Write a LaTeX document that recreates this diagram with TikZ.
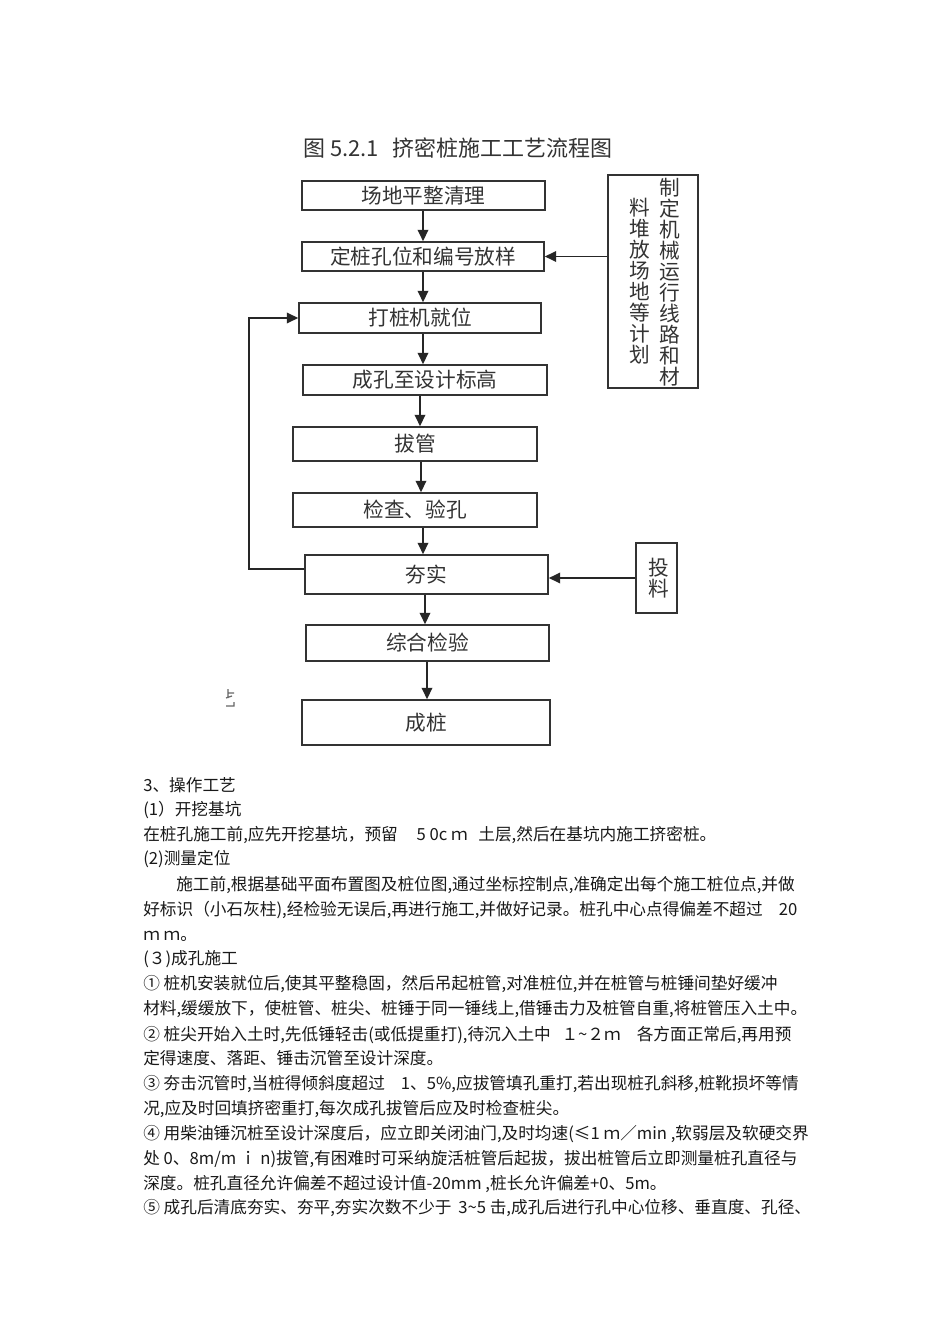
\documentclass[tikz,border=0pt]{standalone}
\usepackage{fontspec}
\newfontfamily\cjk{Noto Sans CJK SC}
\usetikzlibrary{arrows.meta,positioning,calc}
\def\pxu{0.75pt}

\tikzset{
  stepbox/.style={draw=black!80, line width=1.3pt, rectangle, inner sep=0pt,
    text=black!80, font=\cjk\fontsize{15.5}{18}\selectfont},
  sidebox/.style={draw=black!80, line width=1.3pt, rectangle, inner sep=0pt},
  vtext/.style={align=center, inner sep=0pt, text=black!80,
    font=\cjk\fontsize{15.5}{15.75}\selectfont},
  flow/.style={draw=black!85, line width=1.2pt, -{Triangle[length=8.5pt,width=8pt]}},
  bodyline/.style={anchor=base west, inner sep=0pt, text=black!90,
    font=\cjk\fontsize{12.5}{15}\selectfont},
}

\begin{document}
\begin{tikzpicture}[x=0.75pt, y=-0.75pt]
  \fill[white] (0,0) rectangle (950,1344);
  \useasboundingbox (0,0) rectangle (950,1344);

  % --- title ---
  \node[anchor=west, inner sep=0pt, text=black!80, font=\cjk\fontsize{16.5}{18}\selectfont]
    (title) at (303,148) {图 5.2.1\hspace{10pt}挤密桩施工工艺流程图};

  % --- main steps ---
  \node[stepbox, minimum width=243*\pxu, minimum height=29*\pxu] (clear) at (423.5,195.5) {场地平整清理};
  \node[stepbox, minimum width=242*\pxu, minimum height=29*\pxu] (layout) at (423,256.5) {定桩孔位和编号放样};
  \node[stepbox, minimum width=242*\pxu, minimum height=30*\pxu] (pos) at (420,318) {打桩机就位};
  \node[stepbox, minimum width=244*\pxu, minimum height=30*\pxu] (bore) at (425,380) {成孔至设计标高};
  \node[stepbox, minimum width=244*\pxu, minimum height=34*\pxu] (pull) at (415,444) {拔管};
  \node[stepbox, minimum width=244*\pxu, minimum height=34*\pxu] (check) at (415,510) {检查、验孔};
  \node[stepbox, minimum width=243*\pxu, minimum height=39*\pxu] (tamp) at (426.5,574.5) {夯实};
  \node[stepbox, minimum width=243*\pxu, minimum height=36*\pxu] (test) at (427.5,643) {综合检验};
  \node[stepbox, minimum width=248*\pxu, minimum height=45*\pxu] (pile) at (426,722.5) {成桩};

  % --- side boxes ---
  \node[sidebox, minimum width=90*\pxu, minimum height=213*\pxu] (plan) at (653,281.5) {};
  \node[vtext] (planA) at (670,282.5) {制\\定\\机\\械\\运\\行\\线\\路\\和\\材};
  \node[vtext] (planB) at (640,281.5) {料\\堆\\放\\场\\地\\等\\计\\划};
  \node[sidebox, minimum width=41*\pxu, minimum height=70*\pxu] (feed) at (656.5,578) {};
  \node[vtext] (feedtxt) at (659,578) {投\\料};

  % --- connectors ---
  \foreach \from/\to/\xx in {clear/layout/423, layout/pos/423, pos/bore/423, bore/pull/420,
                             pull/check/421, check/tamp/423, tamp/test/425, test/pile/427} {
    \coordinate (ax) at (\xx,0);
    \draw[flow] (\from.south -| ax) -- (\to.north -| ax);
  }
  \draw[flow] (plan.west |- layout.east) -- (layout.east);
  \draw[flow] (feed.west) -- (feed.west -| tamp.east);
  \coordinate (loopx) at (249,0);
  \coordinate (loopstart) at ([yshift=4pt]tamp.west);
  \draw[flow] (loopstart) -- (loopstart -| loopx) |- (pos.west);

  % stray glyph piece
  \draw[black!60, line width=0.9pt] (228,689) -- (228,698) (228,693) -- (234,693)
    (226,698) -- (232,696) (226,706) -- (234,706) -- (234,702);

  % --- text below ---
  \node[bodyline] (l1) at (143,791) {3、操作工艺};
  \node[bodyline] (l2) at (143,815) {(1）开挖基坑};
  \node[bodyline] (l3) at (143,840) {在桩孔施工前,应先开挖基坑，预留\hspace{14pt}5 0c ｍ\hspace{8pt}土层,然后在基坑内施工挤密桩。};
  \node[bodyline] (l4) at (143,864) {(2)测量定位};
  \node[bodyline] (l5) at (176,890) {施工前,根据基础平面布置图及桩位图,通过坐标控制点,准确定出每个施工桩位点,并做};
  \node[bodyline] (l6) at (143,915) {好标识（小石灰柱),经检验无误后,再进行施工,并做好记录。桩孔中心点得偏差不超过\hspace{12pt}20};
  \node[bodyline] (l7) at (143,940) {ｍ ｍ。};
  \node[bodyline] (l8) at (143,964) {(３)成孔施工};
  \node[bodyline] (l9) at (143,989) {① 桩机安装就位后,使其平整稳固，然后吊起桩管,对准桩位,并在桩管与桩锤间垫好缓冲};
  \node[bodyline] (l10) at (143,1014) {材料,缓缓放下，使桩管、桩尖、桩锤于同一锤线上,借锤击力及桩管自重,将桩管压入土中。};
  \node[bodyline] (l11) at (143,1040) {② 桩尖开始入土时,先低锤轻击(或低提重打),待沉入土中\hspace{8pt}１\textasciitilde２ｍ\hspace{12pt}各方面正常后,再用预};
  \node[bodyline] (l12) at (143,1064) {定得速度、落距、锤击沉管至设计深度。};
  \node[bodyline] (l13) at (143,1089) {③ 夯击沉管时,当桩得倾斜度超过\hspace{12pt}1、5\%,应拔管填孔重打,若出现桩孔斜移,桩靴损坏等情};
  \node[bodyline] (l14) at (143,1114) {况,应及时回填挤密重打,每次成孔拔管后应及时检查桩尖。};
  \node[bodyline] (l15) at (143,1139) {④ 用柴油锤沉桩至设计深度后，应立即关闭油门,及时均速(≤1 ｍ／min ,软弱层及软硬交界};
  \node[bodyline] (l16) at (143,1164) {处 0、8m/m ｉ n)拔管,有困难时可采纳旋活桩管后起拔，拔出桩管后立即测量桩孔直径与};
  \node[bodyline] (l17) at (143,1189) {深度。桩孔直径允许偏差不超过设计值-20mm ,桩长允许偏差+0、5m。};
  \node[bodyline] (l18) at (143,1213) {⑤ 成孔后清底夯实、夯平,夯实次数不少于\hspace{5pt}3\textasciitilde5 击,成孔后进行孔中心位移、垂直度、孔径、};
\end{tikzpicture}
\end{document}
